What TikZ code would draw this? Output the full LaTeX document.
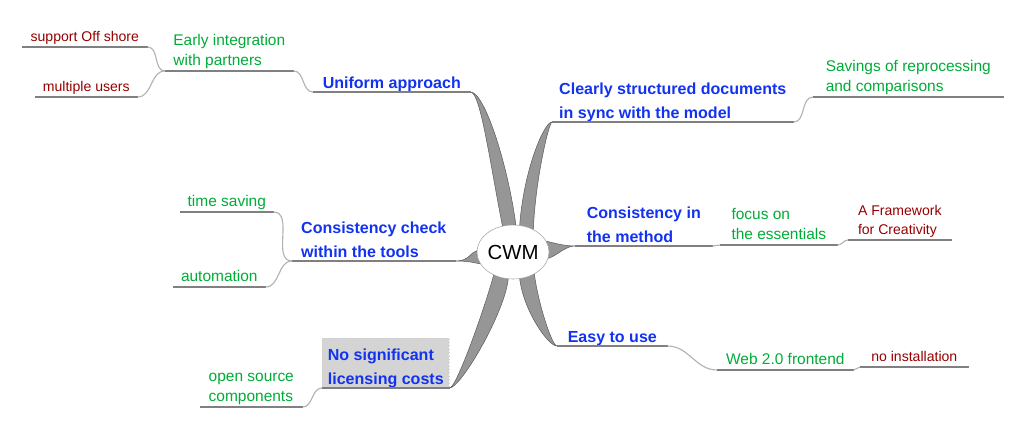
\documentclass[tikz,border=0pt]{standalone}
\usepackage{fontspec}
\setmainfont{Liberation Sans}
\usepackage{xcolor}
\usepackage{tikz}
\usetikzlibrary{calc}
\usetikzlibrary{shapes}
\usetikzlibrary{shapes.geometric}
\usetikzlibrary{backgrounds}
\definecolor{mapblue}{RGB}{18,50,240}
\definecolor{mapgreen}{RGB}{0,172,55}
\definecolor{mapred}{RGB}{150,0,0}
\definecolor{limbgray}{RGB}{150,150,150}
\definecolor{boxgray}{RGB}{212,212,212}
\tikzset{>=latex}
\tikzstyle{hub} = [ellipse, draw=gray!70, fill=white, minimum width=1.7cm, minimum height=1.35cm, inner sep=0pt, font=\fontsize{14.5}{16}\selectfont]
\tikzstyle{topic} = [anchor=south west, inner sep=0pt, align=left, text depth=2.5pt, text=mapblue, font=\fontsize{11.4}{17}\selectfont\bfseries]
\tikzstyle{idea} = [topic, text depth=3.5pt, text=mapgreen, font=\fontsize{11}{14.5}\selectfont]
\tikzstyle{leaf} = [topic, text depth=3.5pt, text=mapred, font=\fontsize{10}{13.5}\selectfont]
\tikzstyle{uline} = [draw=gray, line width=1.3pt]
\tikzstyle{twig} = [draw=gray!60, line width=0.8pt]
\tikzstyle{limb} = [fill=limbgray, draw=gray!70!black, line width=0.35pt]

\begin{document}
\begin{tikzpicture}[x=0.025cm, y=-0.025cm]
\useasboundingbox (0,0) rectangle (1016,422);

\node [hub] (cwm) at (513,252) {CWM};

\node [topic, minimum width=3.925cm] (ua) at (313,92) {Uniform approach};
\node [idea, minimum width=3.2cm] (early) at (165,71) {Early integration\\with partners};
\node [leaf, minimum width=3.125cm] (off) at (22,47) {support Off shore};
\node [leaf, minimum width=2.55cm] (multi) at (35,97) {multiple users};

\node [topic, minimum width=6.025cm] (docs) at (552,122) {Clearly structured documents\\in sync with the model};
\node [idea, minimum width=4.75cm] (savings) at (813,97) {Savings of reprocessing\\and comparisons};

\node [topic, minimum width=4.075cm] (check) at (292,261) {Consistency check\\within the tools};
\node [idea, minimum width=2.325cm] (time) at (180,212) {time saving};
\node [idea, minimum width=2.3cm] (auto) at (173,287) {automation};

\node [topic, minimum width=3.425cm] (method) at (575,246) {Consistency in\\the method};
\node [idea, minimum width=2.925cm] (focus) at (720,245) {focus on\\the essentials};
\node [leaf, minimum width=2.575cm] (frame) at (848,240) {A Framework\\for Creativity};

\node [topic, fill=boxgray, draw=gray!40, dotted, minimum width=3.175cm, text height=33.3pt, text depth=2.1pt] (costs) at (322,388) {No significant\\licensing costs};
\node [idea, minimum width=2.55cm] (oss) at (200,407) {open source\\components};

\node [topic, minimum width=2.75cm] (easy) at (557,346) {Easy to use};
\node [idea, minimum width=3.4cm] (web) at (717,370) {Web 2.0 frontend};
\node [leaf, minimum width=2.7cm] (noinst) at (860,367) {no installation};

\begin{scope}[on background layer]
\draw [limb] (cwm.112) .. controls +(-12,-60) and +(10,0) .. (ua.south east) .. controls +(14,0) and +(-8,-60) .. (cwm.84) -- cycle;
\draw [limb] (cwm.76) .. controls +(4,-55) and +(-8,0) .. (docs.south west) .. controls +(-3,0) and +(2,-50) .. (cwm.48) -- cycle;
\draw [limb] (cwm.178) .. controls +(-6,1) and +(14,0) .. (check.south east) .. controls +(14,0) and +(-6,-1) .. (cwm.200) -- cycle;
\draw [limb] (cwm.18) .. controls +(8,2) and +(-10,0) .. (method.south west) .. controls +(-10,0) and +(8,-2) .. (cwm.350) -- cycle;
\draw [limb] (cwm.230) .. controls +(-8,30) and +(7,0) .. (costs.south east) .. controls +(11,0) and +(-4,35) .. (cwm.260) -- cycle;
\draw [limb] (cwm.284) .. controls +(4,32) and +(-9,0) .. (easy.south west) .. controls +(-5,0) and +(4,30) .. (cwm.314) -- cycle;
\end{scope}

\draw [uline] (ua.south west) -- (ua.south east);
\draw [uline] (early.south west) -- (early.south east);
\draw [uline] (off.south west) -- (off.south east);
\draw [uline] (multi.south west) -- (multi.south east);
\draw [uline] (docs.south west) -- (docs.south east);
\draw [uline] (savings.south west) -- (savings.south east);
\draw [uline] (check.south west) -- (check.south east);
\draw [uline] (time.south west) -- (time.south east);
\draw [uline] (auto.south west) -- (auto.south east);
\draw [uline] (method.south west) -- (method.south east);
\draw [uline] (focus.south west) -- (focus.south east);
\draw [uline] (frame.south west) -- (frame.south east);
\draw [uline] (costs.south west) -- (costs.south east);
\draw [uline] (oss.south west) -- (oss.south east);
\draw [uline] (easy.south west) -- (easy.south east);
\draw [uline] (web.south west) -- (web.south east);
\draw [uline] (noinst.south west) -- (noinst.south east);

\draw [twig] (off.south east) to[out=0, in=180] (early.south west);
\draw [twig] (multi.south east) to[out=0, in=180] (early.south west);
\draw [twig] (early.south east) to[out=0, in=180] (ua.south west);
\draw [twig] (docs.south east) to[out=0, in=180] (savings.south west);
\draw [twig] (time.south east) to[out=0, in=180] (check.south west);
\draw [twig] (auto.south east) to[out=0, in=180] (check.south west);
\draw [twig] (method.south east) to[out=0, in=180] (focus.south west);
\draw [twig] (focus.south east) to[out=0, in=180] (frame.south west);
\draw [twig] (oss.south east) to[out=0, in=180] (costs.south west);
\draw [twig] (easy.south east) to[out=0, in=180] (web.south west);
\draw [twig] (web.south east) to[out=0, in=180] (noinst.south west);
\end{tikzpicture}
\end{document}
